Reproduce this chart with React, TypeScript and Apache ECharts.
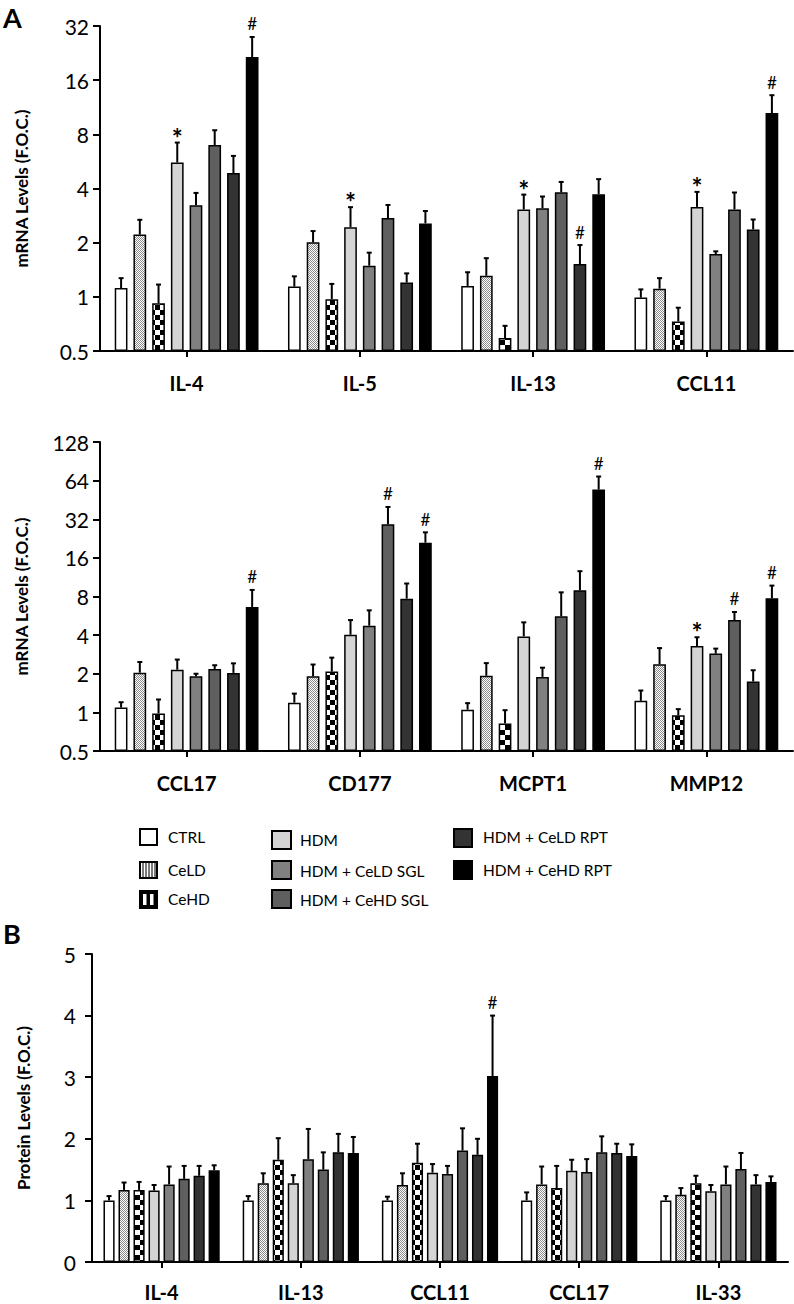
import React, { useEffect, useRef } from 'react';
import * as echarts from 'echarts';

const groups = ['CTRL', 'CeLD', 'CeHD', 'HDM', 'HDM + CeLD SGL', 'HDM + CeHD SGL', 'HDM + CeLD RPT', 'HDM + CeHD RPT'];

// Panel A (top): mRNA, log2 axis
const catsA1 = ['IL-4', 'IL-5', 'IL-13', 'CCL11'];
const meanA1 = [
  [1.12, 1.14, 1.15, 0.99],
  [2.22, 2.01, 1.31, 1.11],
  [0.92, 0.97, 0.59, 0.73],
  [5.58, 2.44, 3.06, 3.16],
  [3.23, 1.49, 3.11, 1.73],
  [6.98, 2.74, 3.81, 3.06],
  [4.87, 1.2, 1.52, 2.37],
  [21.5, 2.56, 3.72, 10.5],
];
const upperA1 = [
  [1.27, 1.3, 1.37, 1.1],
  [2.68, 2.32, 1.64, 1.27],
  [1.17, 1.18, 0.69, 0.87],
  [7.2, 3.15, 3.7, 3.83],
  [3.78, 1.76, 3.61, 1.79],
  [8.43, 3.24, 4.35, 3.8],
  [6.07, 1.35, 1.94, 2.69],
  [27.8, 3.0, 4.51, 13.2],
];
const ticksA1 = [0.5, 1, 2, 4, 8, 16, 32];

// Panel A (bottom)
const catsA2 = ['CCL17', 'CD177', 'MCPT1', 'MMP12'];
const meanA2 = [
  [1.09, 1.19, 1.05, 1.23],
  [2.04, 1.91, 1.93, 2.37],
  [0.98, 2.08, 0.82, 0.95],
  [2.15, 4.03, 3.91, 3.29],
  [1.91, 4.74, 1.89, 2.87],
  [2.18, 29.2, 5.61, 5.24],
  [2.03, 7.7, 8.94, 1.74],
  [6.63, 21.0, 54.5, 7.74],
];
const upperA2 = [
  [1.2, 1.4, 1.18, 1.48],
  [2.47, 2.36, 2.42, 3.17],
  [1.26, 2.67, 1.04, 1.06],
  [2.58, 5.24, 5.03, 3.85],
  [2.0, 6.24, 2.23, 3.14],
  [2.33, 39.9, 8.62, 6.06],
  [2.41, 10.1, 12.6, 2.13],
  [9.0, 25.3, 68.9, 9.73],
];
const ticksA2 = [0.5, 1, 2, 4, 8, 16, 32, 64, 128];

// Panel B: protein
const catsB = ['IL-4', 'IL-13', 'CCL11', 'CCL17', 'IL-33'];
const meanB = [
  [1.0, 1.0, 1.0, 1.0, 1.0],
  [1.17, 1.28, 1.25, 1.26, 1.09],
  [1.17, 1.66, 1.61, 1.2, 1.28],
  [1.16, 1.28, 1.45, 1.48, 1.15],
  [1.26, 1.67, 1.43, 1.46, 1.26],
  [1.35, 1.5, 1.81, 1.78, 1.51],
  [1.4, 1.78, 1.74, 1.77, 1.26],
  [1.49, 1.77, 3.02, 1.72, 1.3],
];
const upperB = [
  [1.07, 1.07, 1.06, 1.13, 1.07],
  [1.29, 1.44, 1.44, 1.55, 1.2],
  [1.3, 2.01, 1.92, 1.56, 1.4],
  [1.25, 1.41, 1.59, 1.66, 1.25],
  [1.55, 2.16, 1.56, 1.67, 1.55],
  [1.56, 1.78, 2.17, 2.04, 1.77],
  [1.56, 2.08, 2.0, 1.92, 1.41],
  [1.57, 2.03, 4.0, 1.91, 1.39],
];

// significance marks: [panel, category index, group index, symbol]
const marks: [number, number, number, string][] = [
  [0, 0, 3, '*'], [0, 0, 7, '#'], [0, 1, 3, '*'], [0, 2, 3, '*'], [0, 2, 6, '#'], [0, 3, 3, '*'], [0, 3, 7, '#'],
  [1, 0, 7, '#'], [1, 1, 5, '#'], [1, 1, 7, '#'], [1, 2, 7, '#'], [1, 3, 3, '*'], [1, 3, 5, '#'], [1, 3, 7, '#'],
  [2, 2, 7, '#'],
];

const FONT = 'Lato, "Open Sans", sans-serif';

function makeDots() {
  const c = document.createElement('canvas');
  c.width = 2; c.height = 2;
  const ctx = c.getContext('2d')!;
  ctx.fillStyle = '#ffffff'; ctx.fillRect(0, 0, 2, 2);
  ctx.fillStyle = '#8a8a8a'; ctx.fillRect(0, 0, 1, 1); ctx.fillRect(1, 1, 1, 1);
  return c;
}
function makeChecker() {
  const c = document.createElement('canvas');
  c.width = 10; c.height = 10;
  const ctx = c.getContext('2d')!;
  ctx.fillStyle = '#ffffff'; ctx.fillRect(0, 0, 10, 10);
  ctx.fillStyle = '#000000'; ctx.fillRect(0, 0, 5, 5); ctx.fillRect(5, 5, 5, 5);
  return c;
}
function makeStripes() {
  const c = document.createElement('canvas');
  c.width = 3; c.height = 3;
  const ctx = c.getContext('2d')!;
  ctx.fillStyle = '#ffffff'; ctx.fillRect(0, 0, 3, 3);
  ctx.fillStyle = '#7a7a7a'; ctx.fillRect(1, 0, 2, 3);
  return c;
}

export default function App() {
  const ref = useRef<HTMLDivElement>(null);
  useEffect(() => {
    document.body.style.margin = '0';
    const chart = echarts.init(ref.current!, undefined, { renderer: 'svg' });
    const dots = makeDots();
    const checker = makeChecker();
    const stripes = makeStripes();
    const fills: any[] = [
      '#ffffff',
      { image: dots, repeat: 'repeat', imageWidth: 2, imageHeight: 2 },
      { image: checker, repeat: 'repeat', imageWidth: 10, imageHeight: 10 },
      '#d4d4d4', '#808080', '#5f5f5f', '#333333', '#000000',
    ];

    const panels = [
      { cats: catsA1, mean: meanA1, upper: upperA1, cg: 0.17, gap: 0.47 },
      { cats: catsA2, mean: meanA2, upper: upperA2, cg: 0.17, gap: 0.47 },
      { cats: catsB, mean: meanB, upper: upperB, cg: 0.165, gap: 0.35 },
    ];

    const series: any[] = [];
    panels.forEach((p, pi) => {
      groups.forEach((g, gi) => {
        series.push({
          type: 'bar', name: g, xAxisIndex: pi, yAxisIndex: pi,
          data: p.mean[gi],
          barGap: `${p.gap * 100}%`, barCategoryGap: `${p.cg * 100}%`,
          itemStyle: { color: fills[gi], borderColor: '#000', borderWidth: 1.5 },
          z: 2,
        });
      });
      const errData: number[][] = [];
      groups.forEach((g, gi) => {
        p.cats.forEach((c, ci) => {
          errData.push([ci, gi, p.mean[gi][ci], p.upper[gi][ci]]);
        });
      });
      series.push({
        type: 'custom', xAxisIndex: pi, yAxisIndex: pi, z: 3,
        encode: { x: 0, y: [2, 3] },
        data: errData,
        renderItem: (params: any, api: any) => {
          const ci = api.value(0), gi = api.value(1), m = api.value(2), up = api.value(3);
          const p0 = api.coord([ci, m]);
          const p1 = api.coord([ci, up]);
          const bw = api.coord([1, m])[0] - api.coord([0, m])[0];
          const w = bw * (1 - p.cg) / (8 + 7 * p.gap);
          const step = w * (1 + p.gap);
          const x = p0[0] + (gi - 3.5) * step;
          const children: any[] = [
            { type: 'line', shape: { x1: x, y1: p0[1], x2: x, y2: p1[1] }, style: { stroke: '#000', lineWidth: 2 } },
            { type: 'line', shape: { x1: x - 2.5, y1: p1[1], x2: x + 2.5, y2: p1[1] }, style: { stroke: '#000', lineWidth: 2 } },
          ];
          const mk = marks.find((k) => k[0] === pi && k[1] === ci && k[2] === gi);
          if (mk) {
            const isStar = mk[3] === '*';
            children.push({
              type: 'text',
              style: {
                text: mk[3], x, y: p1[1] - (isStar ? 5 : 13),
                align: 'center', verticalAlign: 'middle',
                fontSize: isStar ? 26 : 17, fontWeight: isStar ? 'bold' : 'normal',
                fontFamily: FONT, fill: '#000',
              },
            });
          }
          return { type: 'group', children };
        },
      });
    });

    const axisLine = { show: true, lineStyle: { color: '#000', width: 2 } };
    const xAxis = panels.map((p, pi) => ({
      type: 'category', gridIndex: pi, data: p.cats,
      axisLine, axisTick: { show: true, alignWithLabel: true, length: 6, lineStyle: { color: '#000', width: 2 } },
      axisLabel: { color: '#000', fontFamily: FONT, fontWeight: 'bold', fontSize: 20, margin: pi === 2 ? 20 : 22 },
      splitLine: { show: false },
    }));
    const yCommon = {
      axisLine,
      axisTick: { show: true, length: 7, lineStyle: { color: '#000', width: 2 } },
      axisLabel: { color: '#000', fontFamily: FONT, fontSize: 21, margin: 11, formatter: (v: number) => String(v) },
      splitLine: { show: false },
      nameLocation: 'middle', nameRotate: 90,
      nameTextStyle: { color: '#000', fontFamily: FONT, fontWeight: 'bold', fontSize: 17 },
    };
    const yAxis = [
      { ...yCommon, type: 'log', logBase: 2, gridIndex: 0, min: ticksA1[0], max: ticksA1[ticksA1.length - 1], startValue: 0.5, splitNumber: ticksA1.length - 1, name: 'mRNA Levels (F.O.C.)', nameGap: 70 },
      { ...yCommon, type: 'log', logBase: 2, gridIndex: 1, min: ticksA2[0], max: ticksA2[ticksA2.length - 1], startValue: 0.5, splitNumber: ticksA2.length - 1, name: 'mRNA Levels (F.O.C.)', nameGap: 70 },
      { ...yCommon, type: 'value', gridIndex: 2, min: 0, max: 5, interval: 1, name: 'Protein Levels (F.O.C.)', nameGap: 60, axisLabel: { ...yCommon.axisLabel, margin: 16 } },
    ];

    const legendFont = { fontFamily: FONT, fontSize: 15.5, fill: '#000' };
    const box = (x: number, y: number, w: number, h: number, fill: any) => ({
      type: 'rect', shape: { x, y, width: w, height: h }, style: { fill, stroke: '#000', lineWidth: 2 },
    });
    const label = (x: number, y: number, text: string) => ({
      type: 'text', style: { ...legendFont, text, x, y, verticalAlign: 'middle' },
    });
    const graphic: any[] = [
      { type: 'text', style: { text: 'A', x: 3, y: 4, fontFamily: FONT, fontWeight: 'bold', fontSize: 27, fill: '#000' } },
      { type: 'text', style: { text: 'B', x: 3, y: 920, fontFamily: FONT, fontWeight: 'bold', fontSize: 27, fill: '#000' } },
      box(140, 829, 17, 16, '#ffffff'), label(168, 837, groups[0]),
      box(140, 862, 17, 16, { image: stripes, repeat: 'repeat', imageWidth: 3, imageHeight: 3 }), label(168, 870, groups[1]),
      box(140, 891, 17, 17, '#000000'),
      { type: 'rect', shape: { x: 143, y: 894, width: 3.5, height: 11 }, style: { fill: '#fff' } },
      { type: 'rect', shape: { x: 150, y: 894, width: 3.5, height: 11 }, style: { fill: '#fff' } },
      label(168, 899, groups[2]),
      box(272, 831, 19, 18, fills[3]), label(300, 840, groups[3]),
      box(272, 861, 19, 18, fills[4]), label(300, 871, groups[4]),
      box(272, 890, 19, 18, fills[5]), label(300, 900, groups[5]),
      box(454, 829, 18, 18, fills[6]), label(483, 837, groups[6]),
      box(454, 861, 18, 18, fills[7]), label(483, 870, groups[7]),
    ];

    chart.setOption({
      animation: false,
      grid: [
        { left: 100, top: 26, width: 693, height: 325 },
        { left: 100, top: 442, width: 693, height: 309 },
        { left: 92, top: 954, width: 696, height: 308 },
      ],
      xAxis, yAxis, series, graphic,
    });
    return () => chart.dispose();
  }, []);
  return <div ref={ref} style={{ width: 794, height: 1304 }} />;
}
